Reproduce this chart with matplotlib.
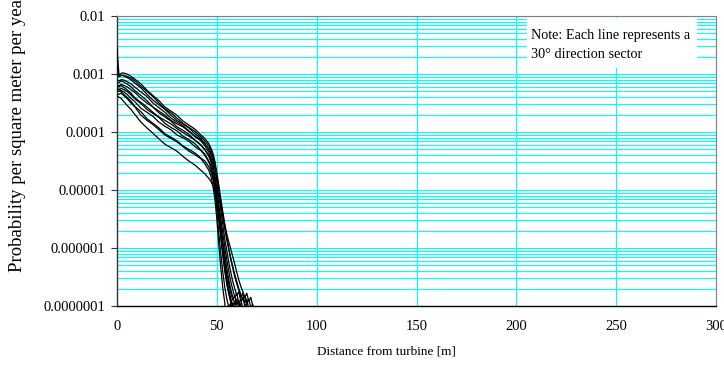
import numpy as np
import matplotlib
matplotlib.use("Agg")
import matplotlib.pyplot as plt
from matplotlib.ticker import FixedLocator, NullFormatter, FixedFormatter
from matplotlib.patches import Rectangle

plt.rcParams['font.family'] = ['Liberation Serif', 'DejaVu Serif']

# Distance grid [m]
distance_m = [0, 1, 2, 3, 5, 7, 9, 12, 15, 18, 21, 24, 27, 30, 33, 36, 39, 42, 44, 46, 47, 48, 49,
              50, 51, 52, 53, 54, 55, 56, 57, 58, 59, 60, 61, 62, 63, 64, 65, 66, 67, 68, 69]

# log10 of probability per square meter per year, one list per 30-degree sector
sector_000 = [-2.55, -3.02, -2.99, -2.98, -3.00, -3.04, -3.09, -3.17, -3.28, -3.37, -3.46, -3.57, -3.64, -3.71, -3.81, -3.88, -3.95, -4.05, -4.11, -4.20, -4.27, -4.36, -4.50,
              -4.70, -4.92, -5.15, -5.38, -5.60, -5.82, -6.02, -6.20, -6.35, -6.50, -6.62, -6.72, -6.85, -6.78, -6.95, -6.88, -7.05, -8.0]
sector_030 = [-3.00, -3.04, -3.02, -3.03, -3.06, -3.10, -3.16, -3.24, -3.35, -3.45, -3.53, -3.61, -3.71, -3.80, -3.86, -3.93, -4.03, -4.11, -4.20, -4.30, -4.38, -4.48, -4.63,
              -4.85, -5.10, -5.35, -5.60, -5.85, -6.05, -6.25, -6.42, -6.58, -6.70, -6.82, -6.75, -6.92, -6.85, -7.00, -6.95, -8.0]
sector_060 = [-3.10, -3.12, -3.10, -3.10, -3.13, -3.17, -3.23, -3.31, -3.39, -3.50, -3.58, -3.66, -3.76, -3.83, -3.89, -3.98, -4.08, -4.15, -4.24, -4.35, -4.44, -4.56, -4.74,
              -5.00, -5.30, -5.60, -5.88, -6.12, -6.35, -6.55, -6.72, -6.85, -6.95, -6.88, -7.02, -6.95, -8.0]
sector_090 = [-3.20, -3.20, -3.18, -3.19, -3.22, -3.27, -3.32, -3.42, -3.50, -3.57, -3.67, -3.74, -3.81, -3.91, -3.97, -4.04, -4.14, -4.22, -4.30, -4.40, -4.50, -4.64, -4.84,
              -5.12, -5.45, -5.80, -6.10, -6.38, -6.60, -6.78, -6.90, -7.02, -6.94, -7.08, -8.0]
sector_120 = [-3.25, -3.27, -3.25, -3.26, -3.30, -3.36, -3.43, -3.51, -3.61, -3.68, -3.75, -3.85, -3.92, -3.98, -4.07, -4.13, -4.20, -4.31, -4.38, -4.50, -4.60, -4.76, -5.00,
              -5.35, -5.75, -6.10, -6.42, -6.68, -6.88, -7.02, -6.95, -8.0]
sector_150 = [-3.30, -3.30, -3.28, -3.30, -3.35, -3.42, -3.48, -3.59, -3.66, -3.73, -3.83, -3.90, -3.96, -4.05, -4.10, -4.16, -4.25, -4.32, -4.40, -4.52, -4.61, -4.74, -4.92,
              -5.18, -5.50, -5.82, -6.12, -6.40, -6.62, -6.80, -6.94, -7.05, -8.0]
sector_180 = [-3.15, -3.15, -3.12, -3.13, -3.17, -3.22, -3.29, -3.37, -3.46, -3.57, -3.64, -3.71, -3.80, -3.86, -3.91, -3.99, -4.07, -4.13, -4.20, -4.29, -4.36, -4.45, -4.60,
              -4.80, -5.04, -5.26, -5.48, -5.68, -5.86, -6.02, -6.18, -6.32, -6.46, -6.58, -6.70, -6.80, -6.90, -6.82, -6.96, -6.88, -7.02, -6.97, -8.0]
sector_210 = [-3.35, -3.35, -3.33, -3.36, -3.42, -3.50, -3.57, -3.71, -3.80, -3.87, -3.96, -4.05, -4.11, -4.17, -4.25, -4.33, -4.39, -4.46, -4.55, -4.66, -4.76, -4.92, -5.15,
              -5.50, -5.95, -6.35, -6.70, -6.95, -8.0]
sector_240 = [-3.38, -3.40, -3.42, -3.46, -3.54, -3.61, -3.70, -3.83, -3.93, -4.02, -4.12, -4.21, -4.27, -4.33, -4.42, -4.50, -4.57, -4.66, -4.72, -4.80, -4.85, -4.92, -5.02,
              -5.20, -5.45, -5.72, -6.00, -6.28, -6.52, -6.72, -6.88, -6.98, -6.92, -7.10, -8.0]
sector_270 = [-3.28, -3.26, -3.30, -3.34, -3.40, -3.47, -3.56, -3.65, -3.77, -3.85, -3.93, -4.03, -4.09, -4.15, -4.24, -4.30, -4.36, -4.45, -4.50, -4.60, -4.68, -4.80, -4.96,
              -5.18, -5.45, -5.72, -5.98, -6.22, -6.45, -6.62, -6.78, -6.90, -6.82, -6.98, -6.92, -7.06, -8.0]
sector_300 = [-2.85, -3.05, -3.03, -3.02, -3.04, -3.07, -3.12, -3.21, -3.30, -3.39, -3.50, -3.60, -3.67, -3.76, -3.85, -3.92, -3.99, -4.08, -4.15, -4.24, -4.31, -4.40, -4.54,
              -4.75, -5.00, -5.22, -5.42, -5.60, -5.76, -5.90, -6.02, -6.15, -6.28, -6.42, -6.55, -6.66, -6.75, -6.85, -6.78, -6.92, -6.85, -7.00, -7.30]
sector_330 = [-3.22, -3.22, -3.20, -3.22, -3.27, -3.33, -3.41, -3.49, -3.57, -3.66, -3.74, -3.80, -3.86, -3.94, -4.01, -4.07, -4.14, -4.23, -4.31, -4.42, -4.50, -4.62, -4.78,
              -5.00, -5.25, -5.50, -5.75, -5.98, -6.20, -6.40, -6.58, -6.72, -6.85, -6.78, -6.95, -6.88, -7.05, -8.0]

sectors = [sector_000, sector_030, sector_060, sector_090, sector_120, sector_150,
           sector_180, sector_210, sector_240, sector_270, sector_300, sector_330]

y_tick_values = [1e-7, 1e-6, 1e-5, 1e-4, 1e-3, 1e-2]
y_tick_labels = ['0.0000001', '0.000001', '0.00001', '0.0001', '0.001', '0.01']
x_tick_values = [0, 50, 100, 150, 200, 250, 300]

fig = plt.figure(figsize=(7.24, 3.71), dpi=100)
ax = fig.add_axes([117 / 724, 1 - 306 / 371, 599 / 724, 290 / 371])

ax.set_yscale('log')
ax.set_xlim(0, 300)
ax.set_ylim(1e-7, 1e-2)

# grid
minor_vals = [m * 10.0 ** e for e in range(-7, -2) for m in range(2, 10)]
ax.yaxis.set_major_locator(FixedLocator(y_tick_values))
ax.yaxis.set_major_formatter(FixedFormatter(y_tick_labels))
ax.yaxis.set_minor_locator(FixedLocator(minor_vals))
ax.yaxis.set_minor_formatter(NullFormatter())
ax.xaxis.set_major_locator(FixedLocator(x_tick_values))
ax.grid(True, which='both', axis='y', color='#00FFFF', lw=0.8, zorder=0)
ax.grid(True, which='major', axis='x', color='#00FFFF', lw=0.8, zorder=0)
ax.set_axisbelow(True)

for s in sectors:
    d = np.array(distance_m[:len(s)], dtype=float)
    v = 10.0 ** np.array(s)
    ax.plot(d, v, color='black', lw=0.9, zorder=3)

ax.tick_params(axis='y', which='major', direction='out', length=4.3, width=0.8,
               labelsize=10.5, pad=4, color='#333333')
ax.tick_params(axis='y', which='minor', length=0)
ax.tick_params(axis='x', which='major', length=0, labelsize=10.5, pad=10)

for side in ['top', 'right']:
    ax.spines[side].set_color('#808080')
    ax.spines[side].set_linewidth(0.8)
ax.spines['left'].set_color('#333333')
ax.spines['bottom'].set_color('black')
for side in ['left', 'bottom']:
    ax.spines[side].set_linewidth(1.0)

# note box
ax.add_patch(Rectangle((0.6845, 0.8207), 0.2838, 0.1723, transform=ax.transAxes,
                       facecolor='white', edgecolor='none', zorder=4))
ax.text(0.6912, 0.9, 'Note: Each line represents a\n30\u00b0 direction sector',
        transform=ax.transAxes, ha='left', va='center', fontsize=10.3,
        linespacing=1.62, zorder=5)

fig.text(386 / 724, 1 - 351 / 371, 'Distance from turbine [m]', ha='center', va='center',
         fontsize=9.5)
fig.text(18 / 724, 1 - 132 / 371, 'Probability per square meter per year', ha='center',
         va='center', rotation=90, fontsize=13.5)

fig.savefig('out.png', dpi=100)
